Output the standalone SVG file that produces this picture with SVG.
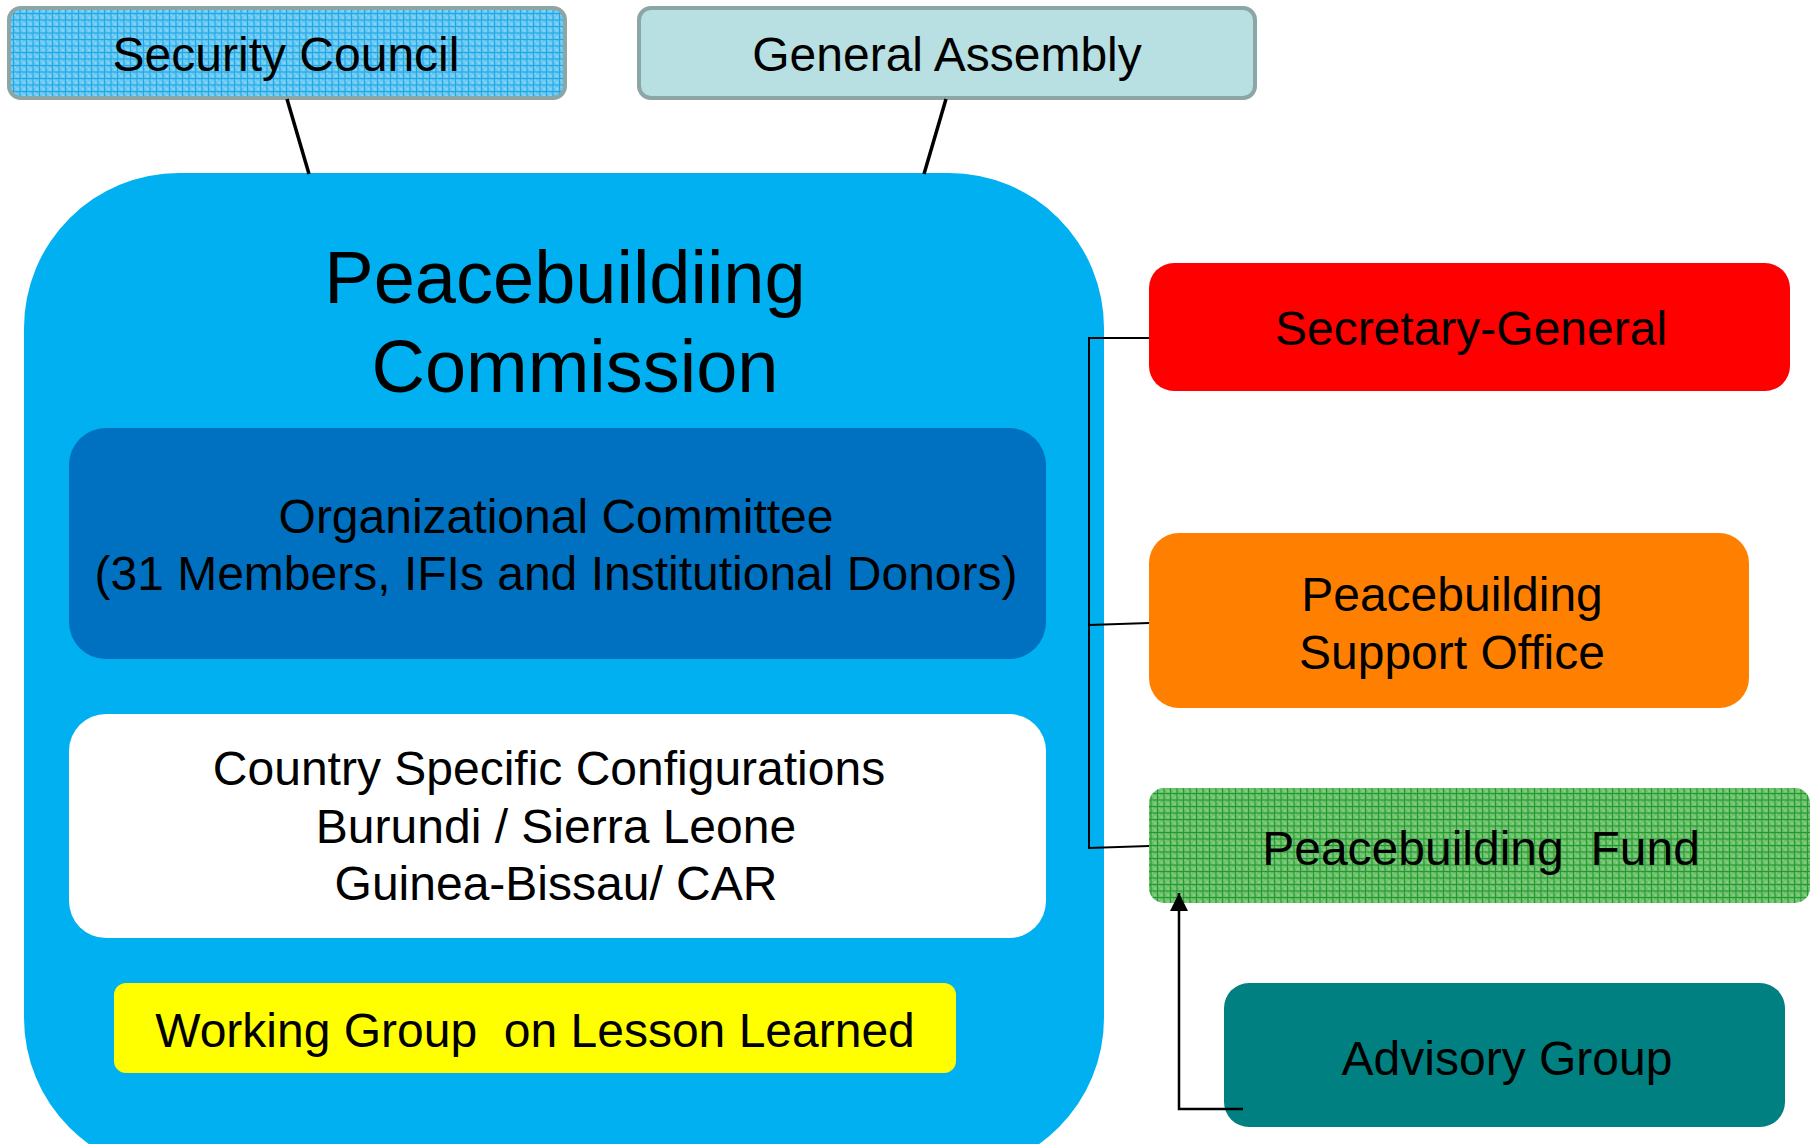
<svg xmlns="http://www.w3.org/2000/svg" width="1815" height="1144" viewBox="0 0 1815 1144">
  <defs>
    <pattern id="gridBlue" width="6.5" height="6.5" patternUnits="userSpaceOnUse">
      <rect width="6.5" height="6.5" fill="#66c8f2"/>
      <rect x="1" y="1" width="2" height="2" fill="#8fd8f6"/>
      <rect x="3.5" y="3.5" width="2" height="2" fill="#8fd8f6"/>
      <path d="M0 0.5H6.5M0.5 0V6.5" stroke="#1fa6e6" stroke-width="1.2"/>
    </pattern>
    <pattern id="gridGreen" width="6.5" height="6.5" patternUnits="userSpaceOnUse">
      <rect width="6.5" height="6.5" fill="#6cc06c"/>
      <rect x="1" y="1" width="2" height="2" fill="#8ed08e"/>
      <rect x="3.5" y="3.5" width="2" height="2" fill="#8ed08e"/>
      <path d="M0 0.5H6.5M0.5 0V6.5" stroke="#1f9a2a" stroke-width="1.2"/>
    </pattern>
    <marker id="arrow" viewBox="0 0 18 18" refX="18" refY="9" markerWidth="18" markerHeight="18" markerUnits="userSpaceOnUse" orient="auto">
      <path d="M0 0L18 9L0 18Z" fill="#000"/>
    </marker>
  </defs>
  <style>
    text { font-family: "Liberation Sans", Arial, sans-serif; fill: #000; text-anchor: middle; }
    .lbl { font-size: 48px; }
    .title { font-size: 74px; }
    .top { stroke: #8ca5a5; stroke-width: 4; }
    .conn { fill: none; stroke: #000; }
  </style>
  <rect width="1815" height="1144" fill="#fff"/>

  <g id="security-council">
    <rect class="top" x="9" y="8" width="556" height="90" rx="12" fill="url(#gridBlue)"/>
    <text class="lbl" x="286" y="71">Security Council</text>
  </g>

  <g id="general-assembly">
    <rect class="top" x="639" y="8" width="616" height="90" rx="12" fill="#b8dfe2"/>
    <text class="lbl" x="947" y="71">General Assembly</text>
  </g>

  <g id="peacebuilding-commission">
    <rect x="24" y="173" width="1080" height="1000" rx="155" ry="155" fill="#00b0f0"/>
    <text class="title" x="565" y="303">Peacebuildiing</text>
    <text class="title" x="575" y="392">Commission</text>
  </g>

  <g id="organizational-committee">
    <rect x="69" y="428" width="977" height="231" rx="37" fill="#0070c0"/>
    <text class="lbl" x="556" y="533">Organizational Committee</text>
    <text class="lbl" x="556" y="590">(31 Members, IFIs and Institutional Donors)</text>
  </g>

  <g id="country-configurations">
    <rect x="69" y="714" width="977" height="224" rx="37" fill="#ffffff"/>
    <text class="lbl" x="549" y="785">Country Specific Configurations</text>
    <text class="lbl" x="556" y="843">Burundi / Sierra Leone</text>
    <text class="lbl" x="556" y="900">Guinea-Bissau/ CAR</text>
  </g>

  <g id="working-group">
    <rect x="114" y="983" width="842" height="90" rx="12" fill="#ffff00"/>
    <text class="lbl" x="535" y="1047" xml:space="preserve">Working Group  on Lesson Learned</text>
  </g>

  <g id="secretary-general">
    <rect x="1149" y="263" width="641" height="128" rx="25" fill="#ff0000"/>
    <text class="lbl" x="1471" y="345">Secretary-General</text>
  </g>

  <g id="support-office">
    <rect x="1149" y="533" width="600" height="175" rx="30" fill="#ff8000"/>
    <text class="lbl" x="1452" y="611">Peacebuilding</text>
    <text class="lbl" x="1452" y="669">Support Office</text>
  </g>

  <g id="peacebuilding-fund">
    <rect x="1149" y="788" width="661" height="115" rx="15" fill="url(#gridGreen)"/>
    <text class="lbl" x="1481" y="865" xml:space="preserve">Peacebuilding  Fund</text>
  </g>

  <g id="advisory-group">
    <rect x="1224" y="983" width="561" height="144" rx="25" fill="#008080"/>
    <text class="lbl" x="1507" y="1075">Advisory Group</text>
  </g>

  <g id="connectors">
    <line class="conn" x1="287" y1="99" x2="309" y2="174" stroke-width="3.5"/>
    <line class="conn" x1="946" y1="99" x2="924" y2="174" stroke-width="3.5"/>
    <path class="conn" stroke-width="2" d="M1149 338H1089V848L1149 846M1089 625L1149 623"/>
    <path class="conn" stroke-width="2.5" d="M1243 1109H1179V893" marker-end="url(#arrow)"/>
  </g>
</svg>
